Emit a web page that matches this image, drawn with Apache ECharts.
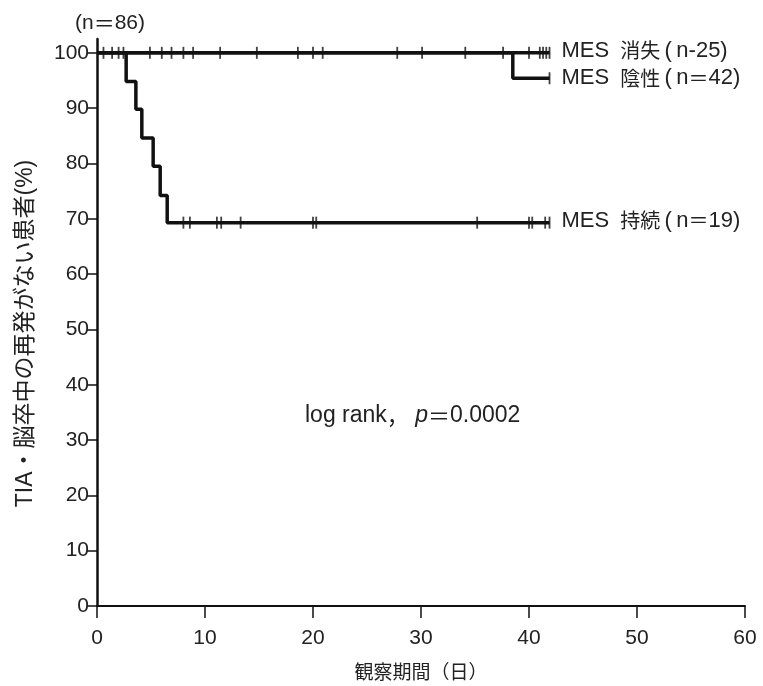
<!DOCTYPE html>
<html>
<head>
<meta charset="utf-8">
<script src="https://cdn.jsdelivr.net/npm/echarts@6/dist/echarts.min.js"></script>
<style>html,body{margin:0;padding:0;background:#fff;}#c{width:763px;height:686px;}</style>
</head>
<body>
<div id="c"></div>
<script>
// ---- data ----
const xTicks = [0, 10, 20, 30, 40, 50, 60];
const yTicks = [0, 10, 20, 30, 40, 50, 60, 70, 80, 90, 100];

// MES 消失 (n=25)
const lostTimes = [0, 41.9];
const lostValues = [100, 100];
const lostCensorTimes = [0.6, 1.4, 2.0, 2.45, 4.9, 6.0, 6.9, 8.0, 8.9, 11.4, 14.8, 18.6, 20.9, 27.8, 30.1, 34.1, 37.6, 40.0, 41.0, 41.3, 41.6, 41.9];
const lostCensorValues = [100, 100, 100, 100, 100, 100, 100, 100, 100, 100, 100, 100, 100, 100, 100, 100, 100, 100, 100, 100, 100, 100];

// MES 陰性 (n=42)
const negTimes = [0, 38.5, 41.9];
const negValues = [100, 95.4, 95.4];
const negCensorTimes = [20.0, 41.9];
const negCensorValues = [100, 95.4];

// MES 持続 (n=19)
const persTimes = [0, 2.7, 3.6, 4.15, 5.2, 5.85, 6.5, 41.9];
const persValues = [100, 94.8, 89.8, 84.6, 79.5, 74.2, 69.3, 69.3];
const persCensorTimes = [8.0, 8.6, 11.1, 11.5, 13.3, 20.0, 20.3, 35.2, 40.0, 40.3, 41.5, 41.9];
const persCensorValues = [69.3, 69.3, 69.3, 69.3, 69.3, 69.3, 69.3, 69.3, 69.3, 69.3, 69.3, 69.3];

const labels = [
  '{a|MES\u2002}{c|消失}{a|\u2009(\u2009n-25)}',
  '{a|MES\u2002}{c|陰性}{a|\u2009(\u2009n}{c|＝}{a|42)}',
  '{a|MES\u2002}{c|持続}{a|\u2009(\u2009n}{c|＝}{a|19)}'
];

const LATIN = '"Liberation Sans", "Noto Sans CJK JP", sans-serif';
const CJK = '"Noto Sans CJK JP", sans-serif';
const zip = (a, b) => a.map((v, i) => [v, b[i]]);
const labelRich = {
  a: { fontSize: 22, fontFamily: LATIN, color: '#222' },
  c: { fontSize: 20, fontFamily: CJK, color: '#222' }
};

function lineSeries(times, values, label, off) {
  return {
    type: 'line', step: 'end', data: zip(times, values), symbol: 'none',
    lineStyle: { color: '#111', width: 3.5 }, z: 3,
    endLabel: { show: true, formatter: label, rich: labelRich, distance: 12, offset: off }
  };
}
function censorSeries(times, values) {
  return {
    type: 'scatter', data: zip(times, values), symbol: 'rect', symbolSize: [1.8, 12],
    itemStyle: { color: '#111' }, z: 4, silent: true
  };
}

const chart = echarts.init(document.getElementById('c'), null, { renderer: 'canvas' });
chart.setOption({
  animation: false,
  backgroundColor: '#fff',
  grid: { left: 97, right: 18, top: 39, bottom: 77 },
  xAxis: {
    type: 'value', min: 0, max: 60, interval: 10,
    name: '観察期間（日）', nameLocation: 'middle', nameGap: 56,
    nameTextStyle: { fontSize: 19, color: '#222', fontFamily: CJK },
    axisLine: { lineStyle: { color: '#111', width: 2 } },
    axisTick: { length: 12, lineStyle: { color: '#111', width: 1.5 } },
    axisLabel: { fontSize: 21, color: '#222', fontFamily: LATIN, margin: 22 },
    splitLine: { show: false }
  },
  yAxis: {
    type: 'value', min: 0, max: 102.5,
    name: 'TIA・脳卒中の再発がない患者(%)', nameLocation: 'middle', nameGap: 60, nameRotate: 90,
    nameTextStyle: { fontSize: 23, color: '#222', fontFamily: LATIN, align: 'center', padding: [0, 22, 0, 0] },
    axisLine: { show: true, lineStyle: { color: '#111', width: 2.5 } },
    axisTick: { show: true, length: 10, customValues: yTicks, lineStyle: { color: '#111', width: 1.5 } },
    axisLabel: { fontSize: 21, color: '#222', fontFamily: LATIN, margin: 8, customValues: yTicks },
    splitLine: { show: false }
  },
  graphic: [
    { type: 'text', left: 75, top: 13, style: {
        rich: { a: { fontSize: 21, fontFamily: LATIN, fill: '#222' }, c: { fontSize: 21, fontFamily: CJK, fill: '#222' } },
        text: '{a|(n}{c|＝}{a|86)}'
    } },
    { type: 'text', left: 305, top: 404, style: {
        rich: {
          i: { fontStyle: 'italic', fontSize: 23, fontFamily: LATIN, fill: '#222' },
          n: { fontSize: 23, fontFamily: LATIN, fill: '#222' },
          c: { fontSize: 22, fontFamily: CJK, fill: '#222' }
        },
        text: '{n|log rank}{c|，}{n| }{i|p}{c|＝}{n|0.0002}'
    } }
  ],
  series: [
    lineSeries(lostTimes, lostValues, labels[0], [0, -2]),
    lineSeries(negTimes, negValues, labels[1], [0, 0]),
    lineSeries(persTimes, persValues, labels[2], [0, -2]),
    censorSeries(lostCensorTimes, lostCensorValues),
    censorSeries(negCensorTimes, negCensorValues),
    censorSeries(persCensorTimes, persCensorValues)
  ]
});
</script>
</body>
</html>
